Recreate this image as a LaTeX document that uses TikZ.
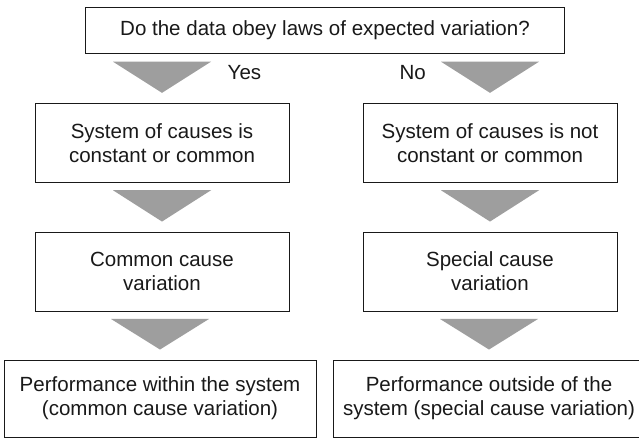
\documentclass[tikz,border=0pt]{standalone}
\usepackage{fontspec}
\setmainfont{Liberation Sans}
\usetikzlibrary{calc}
\definecolor{trigray}{RGB}{158,158,158}
\definecolor{inkc}{RGB}{25,25,25}
\begin{document}
\begin{tikzpicture}[x=1bp,y=-1bp,
  box/.style={draw=inkc, line width=0.9bp, fill=white, inner sep=0pt,
    align=center, text=inkc, font=\fontsize{20.6}{24.3}\selectfont},
  lbl/.style={inner sep=0pt, text=inkc, font=\fontsize{20.6}{24.3}\selectfont},
  tri/.style={fill=trigray, draw=none}]
\useasboundingbox (0,0) rectangle (639,438);
\clip (0,0) rectangle (639,438);
\fill[white] (0,0) rectangle (639,438);

\node[box, minimum width=478.6bp, minimum height=46.7bp] (q) at (325,30.4)
  {Do the data obey laws of expected variation?};

\node[box, minimum width=254bp, minimum height=79bp] (l2) at (162,142.8)
  {System of causes is\\constant or common};
\node[box, minimum width=254bp, minimum height=79bp] (r2) at (490,142.8)
  {System of causes is not\\constant or common};

\node[box, minimum width=254bp, minimum height=79bp] (l3) at (162,271.5)
  {Common cause\\variation};
\node[box, minimum width=254bp, minimum height=79bp] (r3) at (490,271.5)
  {Special cause\\variation};

\node[box, minimum width=312bp, minimum height=77bp] (l4) at (160,398.5)
  {Performance within the system\\(common cause variation)};
\node[box, minimum width=312bp, minimum height=77bp] (r4) at (489,398.5)
  {Performance outside of the\\system (special cause variation)};

\newcommand\flowtri[2]{%
  \fill[tri] ($(#1.south -| #2.north)+(-49,7.5)$) -- ($(#1.south -| #2.north)+(49,7.5)$)
    -- ($(#2.north)+(0,-10)$) -- cycle;}
\flowtri{q}{l2}
\flowtri{q}{r2}
\flowtri{l2}{l3}
\flowtri{r2}{r3}
\flowtri{l3}{l4}
\flowtri{r3}{r4}

\node[lbl, anchor=base west] (yes) at (227.5,80) {Yes};
\node[lbl, anchor=base east] (no) at (426,80) {No};
\end{tikzpicture}
\end{document}
